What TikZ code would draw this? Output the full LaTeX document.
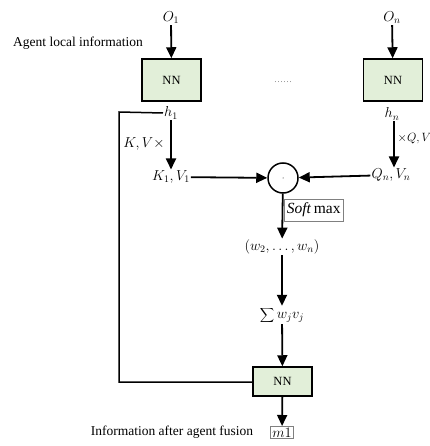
\documentclass[tikz,border=0pt]{standalone}
\usepackage{fontspec}
\setmainfont{Liberation Serif}
\usetikzlibrary{arrows.meta}
\definecolor{nnfill}{HTML}{E2EFD9}
\begin{document}
\begin{tikzpicture}[x=1pt,y=-1pt,
  nnbox/.style={draw=black,line width=1.5pt,fill=nnfill,minimum width=59pt,font=\fontsize{12.5}{14}\selectfont,inner sep=0pt},
  flow/.style={line width=1.8pt,-{Triangle[length=11pt,width=10pt]}},
  wire/.style={line width=1.5pt},
  lbl/.style={font=\fontsize{13.5}{16}\selectfont,inner sep=1pt},
  mlbl/.style={font=\fontsize{14.5}{17}\selectfont,inner sep=1pt}]
\useasboundingbox (0,0) rectangle (429,446);

% inputs of the agents
\node[mlbl] (o1) at (171,18) {$O_1$};
\node[mlbl] (on) at (392,18) {$O_n$};
\node[lbl] (loc) at (78,43) {Agent local information};

% per-agent encoders
\node[nnbox,minimum height=42pt] (nn1) at (171.5,80) {NN};
\node[nnbox,minimum height=42pt] (nnn) at (393,80) {NN};
\node[font=\fontsize{9}{10}\selectfont,text=gray] (dots) at (283,82) {\dots\dots};

\draw[flow] (o1) -- (nn1);
\draw[flow] (on) -- (nnn);

% hidden states
\node[mlbl] (h1) at (171,113) {$h_1$};
\node[mlbl] (hn) at (392,114) {$h_n$};

% key/value and query branches
\node[mlbl] (kvx) at (144,144) {$K,V\times$};
\node[mlbl] (kv1) at (171,177) {$K_1,V_1$};
\node[font=\fontsize{12.5}{15}\selectfont,inner sep=0.5pt,anchor=west] (qvx) at (397,139) {$\times Q,V$};
\node[mlbl] (qn) at (391,175) {$Q_n,V_n$};

\draw[flow] (h1) -- (kv1);
\draw[flow] (hn.south -| 394,0) -- (qn.north -| 394,0);

% attention dot product
\node[draw,circle,line width=1.5pt,minimum size=30pt,inner sep=0pt] (c) at (283,178) {};
\fill (c.center) circle (0.5pt);
\draw[flow] (kv1) -- (c);
\draw[flow] (qn) -- (c);

% softmax and weights
\node[mlbl] (w) at (282,247) {$\left(w_2,\dots,w_n\right)$};
\draw[flow] (c) -- (w);
\node[draw=gray,line width=0.7pt,anchor=west,font=\fontsize{15.5}{17}\selectfont,inner xsep=2.5pt,inner ysep=1.5pt,minimum height=22pt] (sm) at (284,210) {\textit{Soft}\,max};

\node[font=\fontsize{14}{17}\selectfont,inner sep=1pt] (sum) at (282,315) {$\displaystyle\sum w_j v_j$};
\draw[flow] (w) -- (sum);

% fusion network
\node[nnbox,minimum height=29pt] (nn3) at (282.5,381.5) {NN};
\draw[flow] (sum) -- (nn3);

% residual path from h_1
\draw[wire] (h1.west) -- (119,112) -- (119,382) -- (nn3.west |- 0,382);

% output
\node[draw=gray,line width=0.7pt,font=\fontsize{15}{17}\selectfont,inner sep=1.5pt,anchor=north] (m1) at (282,426) {$m1$};
\draw[flow] (nn3) -- (m1);
\node[lbl] (info) at (172,432) {Information after agent fusion};
\end{tikzpicture}
\end{document}
